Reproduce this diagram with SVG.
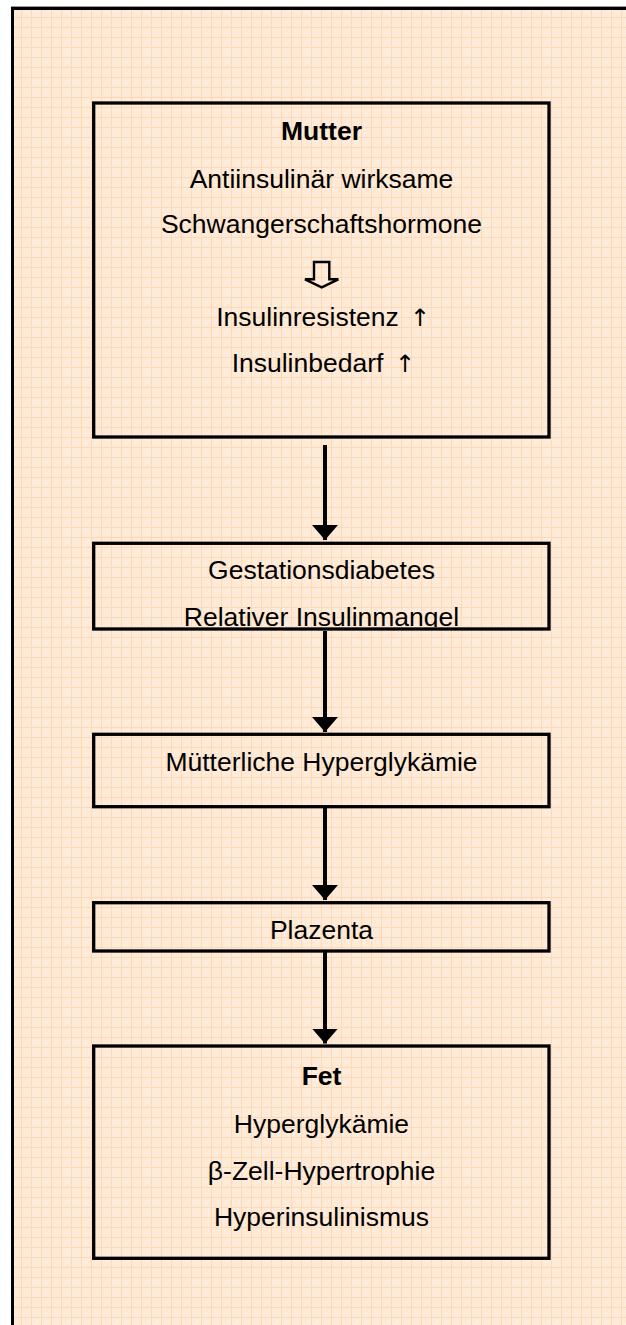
<svg xmlns="http://www.w3.org/2000/svg" width="626" height="1325" viewBox="0 0 626 1325">
<style>
.t{font-family:"Liberation Sans",Arial,sans-serif;font-size:26.5px;fill:#000;text-anchor:middle}
.b{font-weight:bold}
.up{font-family:"DejaVu Sans",sans-serif;font-size:24px;fill:#000}
.box{fill:none;stroke:#000;stroke-width:3.3}
.conn{stroke:#000;stroke-width:4;fill:none}
</style>
<defs>
<pattern id="grid" x="11" y="7" width="10" height="10" patternUnits="userSpaceOnUse">
<rect width="10" height="10" fill="#FEEAD7"/>
<rect x="0" y="0" width="10" height="1" fill="#FADAB9"/>
<rect x="0" y="0" width="1" height="10" fill="#FADAB9"/>
<rect x="5" y="5" width="1" height="1" fill="#FFF3E8"/>
<rect x="3" y="7" width="1" height="1" fill="#FFF3E8"/>
<rect x="7" y="3" width="1" height="1" fill="#FFF3E8"/>
</pattern>
<marker id="ah" viewBox="0 0 15 26" refX="15" refY="13" markerWidth="15" markerHeight="26" markerUnits="userSpaceOnUse" orient="auto">
<path d="M0,0 L15,13 L0,26 Z" fill="#000"/>
</marker>
<clipPath id="c2"><rect x="95" y="545" width="453" height="82"/></clipPath>
</defs>
<rect x="0" y="0" width="626" height="1325" fill="#fff"/>
<rect x="11" y="7" width="615" height="1318" fill="url(#grid)"/>
<line x1="11" y1="6.5" x2="626" y2="6.5" stroke="#9a9a9a" stroke-width="1"/>
<path d="M12.5,1325 V8.5 H626" fill="none" stroke="#000" stroke-width="3"/>

<g id="connectors">
<line class="conn" x1="325" y1="445" x2="325" y2="540" marker-end="url(#ah)"/>
<line class="conn" x1="325" y1="631" x2="325" y2="732" marker-end="url(#ah)"/>
<line class="conn" x1="325" y1="808" x2="325" y2="900" marker-end="url(#ah)"/>
<line class="conn" x1="325" y1="952" x2="325" y2="1043.5" marker-end="url(#ah)"/>
</g>

<g id="node-mutter">
<rect class="box" x="93.7" y="103" width="455.3" height="334"/>
<text class="t b" x="321.5" y="140">Mutter</text>
<text class="t" x="321.5" y="187.7">Antiinsulinär wirksame</text>
<text class="t" x="321.5" y="233.3">Schwangerschaftshormone</text>
<path d="M314,262 H329.3 V279.3 H338.3 L321.7,287.3 L305,279.3 H314 Z" fill="none" stroke="#000" stroke-width="2.4" stroke-linejoin="miter"/>
<text class="t" x="307.5" y="325.7">Insulinresistenz<tspan class="up" x="420">↑</tspan></text>
<text class="t" x="307.5" y="371.7">Insulinbedarf<tspan class="up" x="405">↑</tspan></text>
</g>

<g id="node-gestationsdiabetes">
<g clip-path="url(#c2)">
<text class="t" x="321.5" y="578.5">Gestationsdiabetes</text>
<text class="t" x="321.5" y="626">Relativer Insulinmangel</text>
</g>
<rect class="box" x="93.7" y="543.3" width="455.3" height="85.7"/>
</g>

<g id="node-hyperglykaemie">
<rect class="box" x="93.7" y="734.3" width="455.3" height="72.4"/>
<text class="t" x="321.5" y="771">Mütterliche Hyperglykämie</text>
</g>

<g id="node-plazenta">
<rect class="box" x="93.7" y="902.7" width="455.3" height="48.3"/>
<text class="t" x="321.5" y="939.3">Plazenta</text>
</g>

<g id="node-fet">
<rect class="box" x="93.7" y="1046" width="455.3" height="212.3"/>
<text class="t b" x="321.5" y="1085">Fet</text>
<text class="t" x="321.5" y="1133.3">Hyperglykämie</text>
<text class="t" x="321.5" y="1180">β-Zell-Hypertrophie</text>
<text class="t" x="321.5" y="1225.7">Hyperinsulinismus</text>
</g>
</svg>
